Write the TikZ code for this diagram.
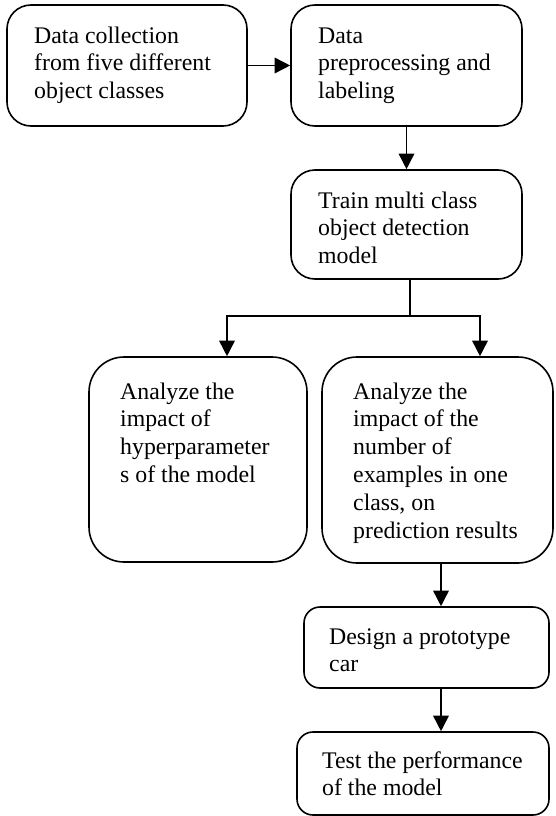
\documentclass[tikz,border=0pt]{standalone}
\usepackage{fontspec}
\setmainfont{Liberation Serif}[Ligatures=NoCommon]
\usetikzlibrary{arrows.meta,calc}
\begin{document}
\begin{tikzpicture}[x=1pt,y=-1pt,
  box/.style={draw, line width=1.6pt, inner sep=0pt},
  txt/.style={anchor=north west, inner sep=0pt, align=left, font=\fontsize{23.8}{27.8}\selectfont},
  ln/.style={line width=1.6pt},
  arr/.style={line width=1.6pt, -{Triangle[length=15.5pt,width=15.5pt]}}]
\useasboundingbox (0,0) rectangle (555,816);
% boxes
\node[box, rounded corners=24pt, minimum width=240pt, minimum height=121pt] (b1) at (127,65.5) {};
\node[box, rounded corners=24pt, minimum width=231pt, minimum height=121pt] (b2) at (406.5,65.5) {};
\node[box, rounded corners=24pt, minimum width=231pt, minimum height=109pt] (b3) at (406.5,224.5) {};
\node[box, rounded corners=35pt, minimum width=218pt, minimum height=205pt] (b4) at (198,459.5) {};
\node[box, rounded corners=35pt, minimum width=231pt, minimum height=206pt] (b5) at (437.5,460) {};
\node[box, rounded corners=16pt, minimum width=245pt, minimum height=81pt] (b6) at (426.5,647.5) {};
\node[box, rounded corners=16pt, minimum width=252pt, minimum height=83pt] (b7) at (423,773.5) {};
% texts
\node[txt] (t1) at (34,23.5) {\strut Data collection\\from five different\\object classes};
\node[txt] (t2) at (318,23.5) {\strut Data\\preprocessing and\\labeling};
\node[txt] (t3) at (318,188.5) {\strut Train multi class\\object detection\\model};
\node[txt] (t4) at (120,379.5) {\strut Analyze the\\impact of\\hyperparameter\\s of the model};
\node[txt] (t5) at (353,379.5) {\strut Analyze the\\impact of the\\number of\\examples in one\\class, on\\prediction results};
\node[txt] (t6) at (329,624.5) {\strut Design a prototype\\car};
\node[txt] (t7) at (322,748.5) {\strut Test the performance\\of the model};
% connectors
\coordinate (j) at (410,316);
\coordinate (jl) at (227,316);
\coordinate (jr) at (480,316);
\coordinate (ax) at (441,590);
\draw[arr] (b1) -- (b2);
\draw[arr] (b2) -- (b3);
\draw[ln] (j |- b3.south) -- (j);
\draw[arr] (j) -- (jl) -- (jl |- b4.north);
\draw[arr] (j) -- (jr) -- (jr |- b5.north);
\draw[arr] (ax |- b5.south) -- (ax |- b6.north);
\draw[arr] (ax |- b6.south) -- (ax |- b7.north);
\end{tikzpicture}
\end{document}
